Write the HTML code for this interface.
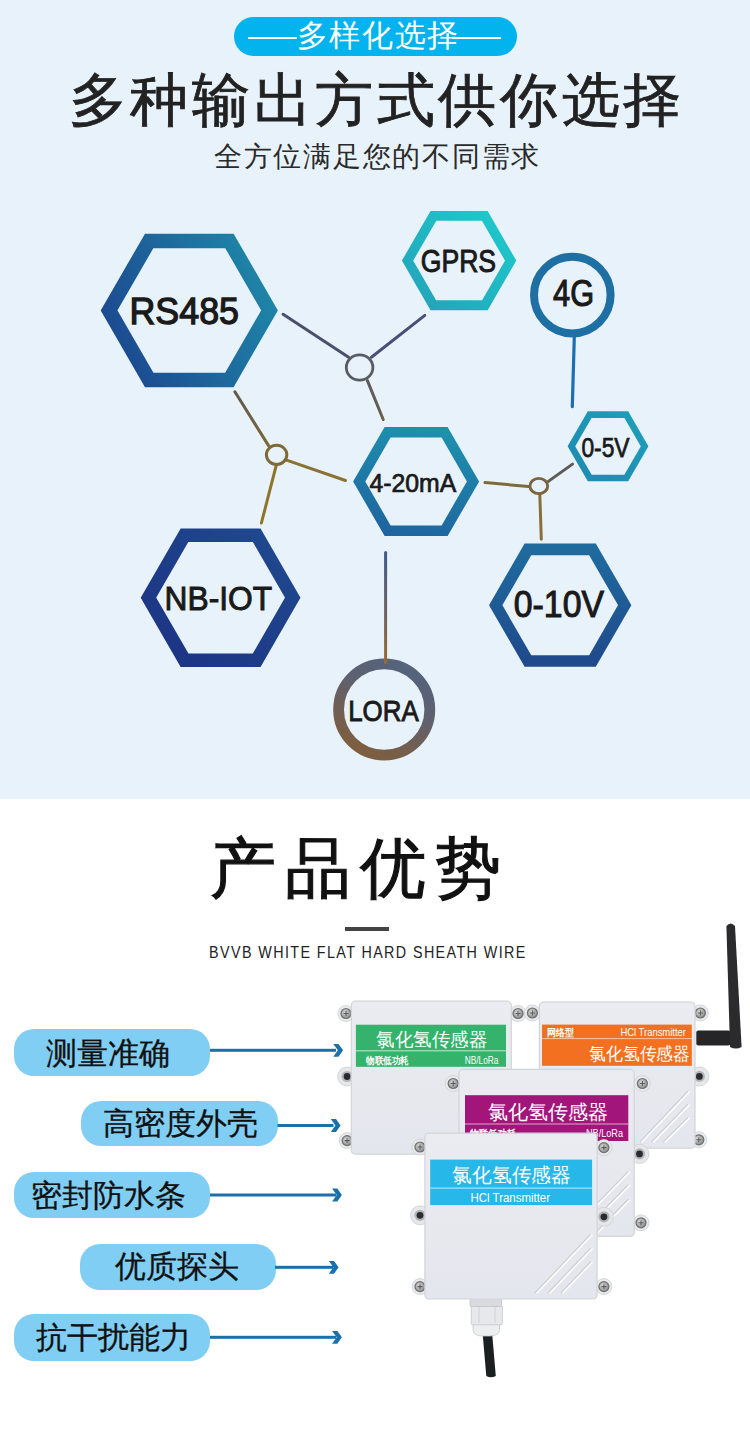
<!DOCTYPE html>
<html><head><meta charset="utf-8">
<style>
html,body{margin:0;padding:0;}
body{width:750px;height:1433px;position:relative;overflow:hidden;background:#fff;font-family:"Liberation Sans",sans-serif;}
.abs{position:absolute;}
#top{left:0;top:0;width:750px;height:799px;background:#e8f2fb;}
#pill{left:234px;top:17px;width:283px;height:39px;border-radius:20px;background:#03b3ee;}
.dash{position:absolute;height:2px;background:#fff;}
#pilltxt{left:296.8px;top:16.2px;height:39px;line-height:39px;color:#fff;font-size:30.5px;white-space:nowrap;letter-spacing:1.6px;}
#title{left:0;top:59.5px;width:750px;text-align:center;font-size:58px;font-weight:500;color:#222;-webkit-text-stroke:0.8px #222;white-space:nowrap;line-height:80px;letter-spacing:3.6px;text-indent:3.6px;}
#sub{left:1.5px;top:139px;width:750px;text-align:center;font-size:28px;color:#2a2a2a;white-space:nowrap;line-height:36px;letter-spacing:1.75px;text-indent:1.75px;}
#h2{left:209.6px;top:820px;font-size:66px;font-weight:500;color:#111;-webkit-text-stroke:1.1px #111;white-space:nowrap;line-height:96px;letter-spacing:9px;}
#bar{left:345px;top:926.5px;width:44px;height:4.5px;background:#444;}

.pl{position:absolute;border-radius:20px;background:#80cef3;}
.ft{position:absolute;font-size:31px;line-height:40px;color:#111;white-space:nowrap;-webkit-text-stroke:0.3px #111;}
</style></head><body>
<div id="top" class="abs"></div>
<div id="pill" class="abs"></div>
<div class="dash" style="left:248px;top:37px;width:49px;"></div>
<div class="dash" style="left:452px;top:37px;width:49px;"></div>
<div id="pilltxt" class="abs">多样化选择</div>
<div id="title" class="abs">多种输出方式供你选择</div>
<div id="sub" class="abs">全方位满足您的不同需求</div>

<svg class="abs" style="left:0;top:0" width="750" height="800" viewBox="0 0 750 800">
<defs>
<linearGradient id="gRS" x1="0" y1="0.7" x2="1" y2="0.3"><stop offset="0" stop-color="#1c4990"/><stop offset="1" stop-color="#1e86a8"/></linearGradient>
<linearGradient id="gGP" x1="0" y1="1" x2="1" y2="0"><stop offset="0" stop-color="#24a2b9"/><stop offset="1" stop-color="#1dcbcc"/></linearGradient>
<linearGradient id="g420" x1="0.6" y1="0" x2="0.4" y2="1"><stop offset="0" stop-color="#1e8fad"/><stop offset="1" stop-color="#1e66a0"/></linearGradient>
<linearGradient id="g05" x1="0" y1="1" x2="1" y2="0"><stop offset="0" stop-color="#1e8ab2"/><stop offset="1" stop-color="#1e9fb9"/></linearGradient>
<linearGradient id="g010" x1="0" y1="0" x2="0" y2="1"><stop offset="0" stop-color="#1f6b9e"/><stop offset="1" stop-color="#1f4a8c"/></linearGradient>
<linearGradient id="gNB" x1="0" y1="1" x2="1" y2="0"><stop offset="0" stop-color="#1c3383"/><stop offset="1" stop-color="#1f4a8f"/></linearGradient>
<linearGradient id="gLO" x1="0.72" y1="0.05" x2="0.28" y2="0.95"><stop offset="0" stop-color="#55637b"/><stop offset="0.35" stop-color="#5e6070"/><stop offset="1" stop-color="#7d5e40"/></linearGradient>
<linearGradient id="gLL" gradientUnits="userSpaceOnUse" x1="0" y1="552" x2="0" y2="663"><stop offset="0" stop-color="#3d5a8a"/><stop offset="0.5" stop-color="#6a6062"/><stop offset="1" stop-color="#9a6a30"/></linearGradient>
<linearGradient id="gL1" gradientUnits="userSpaceOnUse" x1="367" y1="380" x2="383" y2="420"><stop offset="0" stop-color="#5a5a62"/><stop offset="1" stop-color="#6a6048"/></linearGradient>
<linearGradient id="gL2" gradientUnits="userSpaceOnUse" x1="235" y1="392" x2="269" y2="446"><stop offset="0" stop-color="#605a4c"/><stop offset="1" stop-color="#7a6838"/></linearGradient>
</defs>
<g fill="none" stroke-linecap="round">
<!-- connector lines -->
<line x1="283.1" y1="314.3" x2="348.6" y2="357.2" stroke="#4a4f6e" stroke-width="3"/>
<line x1="424.8" y1="315.4" x2="371.4" y2="357.2" stroke="#4a4f78" stroke-width="3"/>
<line x1="367.4" y1="380.6" x2="383.2" y2="419.5" stroke="url(#gL1)" stroke-width="3"/>
<ellipse cx="359.6" cy="367.5" rx="13.3" ry="12.7" stroke="#5b5b62" stroke-width="2.8"/>
<line x1="234.9" y1="391.8" x2="268.7" y2="445.9" stroke="url(#gL2)" stroke-width="3"/>
<line x1="286.5" y1="460.1" x2="345.5" y2="480.5" stroke="#8a7232" stroke-width="3"/>
<line x1="276.1" y1="465.8" x2="261.4" y2="523" stroke="#8e7428" stroke-width="3"/>
<ellipse cx="276.6" cy="454.8" rx="10.2" ry="9.6" stroke="#7e6a38" stroke-width="3"/>
<line x1="574.3" y1="337" x2="572.3" y2="406.6" stroke="#1e6eb2" stroke-width="3.2"/>
<line x1="485" y1="482.6" x2="528.5" y2="486.5" stroke="#7d6a3a" stroke-width="3"/>
<line x1="548.3" y1="481.4" x2="572.5" y2="464.1" stroke="#5e5a55" stroke-width="3"/>
<line x1="539.8" y1="494.3" x2="541.3" y2="539.3" stroke="#857038" stroke-width="3"/>
<ellipse cx="538.8" cy="486" rx="8.9" ry="7.6" stroke="#7a6440" stroke-width="2.9"/>
</g>
<g fill="none" stroke-linejoin="miter">
<!-- RS485 c(189.3,310.3) Ro 88.6 t 14.5 -->
<polygon id="hRS" stroke="url(#gRS)" stroke-width="14.5" points="269.53,310.40 229.41,379.88 149.19,379.88 109.07,310.40 149.19,240.92 229.41,240.92"/>
<polygon id="hGP" stroke="url(#gGP)" stroke-width="9.8" points="510.64,260.60 484.87,305.24 433.33,305.24 407.56,260.60 433.33,215.96 484.87,215.96"/>
<polygon id="h420" stroke="url(#g420)" stroke-width="10.5" points="473.04,481.50 444.57,530.81 387.63,530.81 359.16,481.50 387.63,432.19 444.57,432.19"/>
<polygon id="h05" stroke="url(#g05)" stroke-width="6.6" points="644.59,446.30 626.29,477.99 589.71,477.99 571.41,446.30 589.71,414.61 626.29,414.61"/>
<polygon id="h010" stroke="url(#g010)" stroke-width="11.6" points="624.70,605.20 592.45,661.06 527.95,661.06 495.70,605.20 527.95,549.34 592.45,549.34"/>
<polygon id="hNB" stroke="url(#gNB)" stroke-width="13.4" points="292.76,597.70 256.68,660.20 184.52,660.20 148.44,597.70 184.52,535.20 256.68,535.20"/>
<circle cx="572.3" cy="295.1" r="38.3" stroke="#1e70a4" stroke-width="8"/>
<circle cx="384.2" cy="709.5" r="45.6" stroke="url(#gLO)" stroke-width="10.8"/>
<line x1="385.6" y1="552.5" x2="385.6" y2="662.8" stroke="url(#gLL)" stroke-width="3" stroke-linecap="round"/>
</g>
<g fill="#1a1a1a" stroke="#1a1a1a" font-family="Liberation Sans" font-weight="400">
<text id="tRS" x="129.5" y="323.8" font-size="37.8" textLength="109.5" lengthAdjust="spacingAndGlyphs" stroke-width="1.3">RS485</text>
<text id="tGP" x="420.7" y="271.7" font-size="30.7" textLength="75.4" lengthAdjust="spacingAndGlyphs" stroke-width="0.95">GPRS</text>
<text id="t4G" x="553.1" y="305.9" font-size="37.2" textLength="41.0" lengthAdjust="spacingAndGlyphs" stroke-width="1.1">4G</text>
<text id="t420" x="369.5" y="492.1" font-size="24.9" textLength="86.8" lengthAdjust="spacingAndGlyphs" stroke-width="0.7">4-20mA</text>
<text id="t05" x="581.4" y="456.7" font-size="27.0" textLength="48.2" lengthAdjust="spacingAndGlyphs" stroke-width="0.75">0-5V</text>
<text id="t010" x="513.8" y="617.0" font-size="36.6" textLength="90.2" lengthAdjust="spacingAndGlyphs" stroke-width="1.05">0-10V</text>
<text id="tNB" x="164.6" y="609.5" font-size="34.0" textLength="107.6" lengthAdjust="spacingAndGlyphs" stroke-width="1.0">NB-IOT</text>
<text id="tLO" x="348.2" y="720.9" font-size="29.4" textLength="70.5" lengthAdjust="spacingAndGlyphs" stroke-width="0.9">LORA</text>
</g>
</svg>

<div id="h2" class="abs">产品优势</div>
<div id="bar" class="abs"></div>
<svg class="abs" style="left:0;top:930px" width="750" height="40" viewBox="0 930 750 40"><text id="tEN" x="209.1" y="957.8" font-size="16.5" letter-spacing="1.6" textLength="317.6" lengthAdjust="spacingAndGlyphs" fill="#222" font-family="Liberation Sans">BVVB WHITE FLAT HARD SHEATH WIRE</text></svg>



<!-- features -->
<div class="pl" style="left:14.3px;top:1029px;width:196px;height:47px;"></div>
<div class="pl" style="left:81.2px;top:1100.5px;width:196.7px;height:45.5px;"></div>
<div class="pl" style="left:14.3px;top:1171.7px;width:196px;height:46.6px;"></div>
<div class="pl" style="left:79.7px;top:1244px;width:196px;height:45.7px;"></div>
<div class="pl" style="left:14.3px;top:1314px;width:196px;height:46.7px;"></div>
<div class="ft" style="left:46.4px;top:1034.2px;">测量准确</div>
<div class="ft" style="left:103.2px;top:1104.2px;">高密度外壳</div>
<div class="ft" style="left:31.0px;top:1176.2px;">密封防水条</div>
<div class="ft" style="left:114.9px;top:1247.2px;">优质探头</div>
<div class="ft" style="left:35.6px;top:1318.2px;">抗干扰能力</div>
<svg class="abs" style="left:0;top:1000px" width="360" height="380" viewBox="0 1000 360 380">
<g fill="#1a70aa">
<rect x="210" y="1048.8" width="126" height="3"/>
<polygon points="333.3,1043.9 338.5,1043.9 343.1,1050.3 338.5,1056.7 333.3,1056.7 337.9,1050.3"/>
<rect x="277.5" y="1124" width="56" height="3"/>
<polygon points="330.8,1119.1 336,1119.1 340.6,1125.5 336,1131.9 330.8,1131.9 335.4,1125.5"/>
<rect x="210" y="1193.5" width="126" height="3"/>
<polygon points="332.1,1188.6 337.3,1188.6 341.9,1195 337.3,1201.4 332.1,1201.4 336.7,1195"/>
<rect x="275" y="1265.8" width="58" height="3"/>
<polygon points="328.8,1260.9 334,1260.9 338.6,1267.3 334,1273.7 328.8,1273.7 333.4,1267.3"/>
<rect x="210" y="1335.8" width="126" height="3"/>
<polygon points="332.1,1330.9 337.3,1330.9 341.9,1337.3 337.3,1343.7 332.1,1343.7 336.7,1337.3"/>
</g>
</svg>

<!-- product -->
<svg class="abs" style="left:330px;top:910px" width="420" height="480" viewBox="330 910 420 480" font-family="Liberation Sans">
<defs>
<linearGradient id="gBox" x1="0" y1="0" x2="0" y2="1"><stop offset="0" stop-color="#eaecf1"/><stop offset="1" stop-color="#e3e6ec"/></linearGradient>
<radialGradient id="gScrew"><stop offset="0" stop-color="#d8d8d8"/><stop offset="0.55" stop-color="#a8a8a8"/><stop offset="0.75" stop-color="#6d6d6d"/><stop offset="1" stop-color="#9a9a9a"/></radialGradient>
<radialGradient id="gHole"><stop offset="0" stop-color="#1a1a1e"/><stop offset="0.45" stop-color="#2a2a30"/><stop offset="0.6" stop-color="#8a8a8e"/><stop offset="1" stop-color="#dcdcde"/></radialGradient>
<radialGradient id="gHead" cx="0.4" cy="0.4" r="0.7"><stop offset="0" stop-color="#e0e0e0"/><stop offset="0.6" stop-color="#a9a9aa"/><stop offset="1" stop-color="#858586"/></radialGradient>
</defs>

<!-- back-left box (green) -->
<g transform="translate(346 1013.5)"><circle r="8" fill="#e9eaec" stroke="#cdcfd2" stroke-width="0.8"/><circle r="5.6" fill="#6f7072"/><circle r="4.4" fill="url(#gHead)"/><path d="M-2.4,0H2.4M0,-2.4V2.4" stroke="#5a5a5c" stroke-width="1.1"/></g>
<g transform="translate(347.1 1076.5)"><circle r="9.5" fill="#e6e7e9" stroke="#cdcfd2" stroke-width="0.8"/><circle r="5.6" fill="#b4b5b8"/><circle r="3.4" fill="#2a2b2f"/></g>
<g transform="translate(347.1 1140.6)"><circle r="8" fill="#e9eaec" stroke="#cdcfd2" stroke-width="0.8"/><circle r="5.6" fill="#6f7072"/><circle r="4.4" fill="url(#gHead)"/><path d="M-2.4,0H2.4M0,-2.4V2.4" stroke="#5a5a5c" stroke-width="1.1"/></g>
<g transform="translate(518 1013.5)"><circle r="8" fill="#e9eaec" stroke="#cdcfd2" stroke-width="0.8"/><circle r="5.6" fill="#6f7072"/><circle r="4.4" fill="url(#gHead)"/><path d="M-2.4,0H2.4M0,-2.4V2.4" stroke="#5a5a5c" stroke-width="1.1"/></g>
<rect x="351.3" y="1001.2" width="160" height="153" rx="4" fill="url(#gBox)" stroke="#d3d4d8" stroke-width="1.2"/>
<rect x="355.9" y="1024.7" width="150.1" height="42.1" fill="#35b36c"/>
<rect x="355.9" y="1050.3" width="150.1" height="1" fill="#bfe8cf"/>
<text x="376" y="1046" font-size="19" font-weight="500" fill="#fff" textLength="111" lengthAdjust="spacingAndGlyphs">氯化氢传感器</text>
<text x="366" y="1063.5" font-size="9.5" font-weight="700" fill="#fff" textLength="42.7" lengthAdjust="spacingAndGlyphs">物联低功耗</text>
<text x="464.7" y="1063.5" font-size="10.5" fill="#fff" textLength="33.8" lengthAdjust="spacingAndGlyphs">NB/LoRa</text>

<!-- back-right box (orange) -->
<rect x="696.3" y="1030.4" width="34" height="15.1" rx="2" fill="#262628"/>
<path d="M726.4,926 Q730.7,921 735,926 L741.6,1047 Q736,1050 730,1047 Z" fill="#2b2b2e"/>
<g transform="translate(532.4 1013)"><circle r="8" fill="#e9eaec" stroke="#cdcfd2" stroke-width="0.8"/><circle r="5.6" fill="#6f7072"/><circle r="4.4" fill="url(#gHead)"/><path d="M-2.4,0H2.4M0,-2.4V2.4" stroke="#5a5a5c" stroke-width="1.1"/></g>
<g transform="translate(700.4 1013)"><circle r="8" fill="#e9eaec" stroke="#cdcfd2" stroke-width="0.8"/><circle r="5.6" fill="#6f7072"/><circle r="4.4" fill="url(#gHead)"/><path d="M-2.4,0H2.4M0,-2.4V2.4" stroke="#5a5a5c" stroke-width="1.1"/></g>
<g transform="translate(699.4 1076.4)"><circle r="9.5" fill="#e6e7e9" stroke="#cdcfd2" stroke-width="0.8"/><circle r="5.6" fill="#b4b5b8"/><circle r="3.4" fill="#2a2b2f"/></g>
<g transform="translate(698.8 1139.8)"><circle r="8" fill="#e9eaec" stroke="#cdcfd2" stroke-width="0.8"/><circle r="5.6" fill="#6f7072"/><circle r="4.4" fill="url(#gHead)"/><path d="M-2.4,0H2.4M0,-2.4V2.4" stroke="#5a5a5c" stroke-width="1.1"/></g>
<rect x="539.4" y="1002.2" width="155.6" height="146" rx="4" fill="url(#gBox)" stroke="#d3d4d8" stroke-width="1.2"/>
<rect x="542" y="1024.6" width="149.8" height="41.2" fill="#f2701f"/>
<rect x="542" y="1038.1" width="149.8" height="1" fill="#f9c6a4"/>
<text x="546.8" y="1035.8" font-size="9.5" font-weight="700" fill="#fff" textLength="27.2" lengthAdjust="spacingAndGlyphs">网络型</text>
<text x="620.4" y="1035.8" font-size="10.5" fill="#fff" textLength="65.6" lengthAdjust="spacingAndGlyphs">HCl Transmitter</text>
<text x="589" y="1059.5" font-size="18" font-weight="500" fill="#fff" textLength="101.2" lengthAdjust="spacingAndGlyphs">氯化氢传感器</text>
<g stroke="#ccced3" stroke-width="1.3"><line x1="639.9" y1="1142.1" x2="688.3" y2="1090.8"/><line x1="651.6" y1="1142.0" x2="688.3" y2="1104.0"/><line x1="663.3" y1="1142.0" x2="688.3" y2="1117.2"/></g><g stroke="#fbfcfd" stroke-width="1.6"><line x1="641.5" y1="1142.5" x2="689.9" y2="1091.2"/><line x1="653.2" y1="1142.4" x2="689.9" y2="1104.4"/><line x1="664.9" y1="1142.4" x2="689.9" y2="1117.6"/></g>

<!-- middle box (purple) -->
<g transform="translate(453.2 1083.5)"><circle r="8" fill="#e9eaec" stroke="#cdcfd2" stroke-width="0.8"/><circle r="5.6" fill="#6f7072"/><circle r="4.4" fill="url(#gHead)"/><path d="M-2.4,0H2.4M0,-2.4V2.4" stroke="#5a5a5c" stroke-width="1.1"/></g>
<g transform="translate(642.4 1083.5)"><circle r="8" fill="#e9eaec" stroke="#cdcfd2" stroke-width="0.8"/><circle r="5.6" fill="#6f7072"/><circle r="4.4" fill="url(#gHead)"/><path d="M-2.4,0H2.4M0,-2.4V2.4" stroke="#5a5a5c" stroke-width="1.1"/></g>
<g transform="translate(639.5 1153.9)"><circle r="9.5" fill="#e6e7e9" stroke="#cdcfd2" stroke-width="0.8"/><circle r="5.6" fill="#b4b5b8"/><circle r="3.4" fill="#2a2b2f"/></g>
<g transform="translate(641 1222.8)"><circle r="8" fill="#e9eaec" stroke="#cdcfd2" stroke-width="0.8"/><circle r="5.6" fill="#6f7072"/><circle r="4.4" fill="url(#gHead)"/><path d="M-2.4,0H2.4M0,-2.4V2.4" stroke="#5a5a5c" stroke-width="1.1"/></g>
<rect x="459" y="1069.4" width="175.2" height="167" rx="4" fill="url(#gBox)" stroke="#d3d4d8" stroke-width="1.2"/>
<rect x="465" y="1095.2" width="163.3" height="45.8" fill="#a2167b"/>
<rect x="465" y="1123.5" width="163.3" height="1" fill="#dca7cd"/>
<text x="487.8" y="1119" font-size="19.5" font-weight="500" fill="#fff" textLength="120.3" lengthAdjust="spacingAndGlyphs">氯化氢传感器</text>
<text x="470" y="1137" font-size="10" font-weight="700" fill="#fff" textLength="46" lengthAdjust="spacingAndGlyphs">物联低功耗</text>
<text x="586" y="1137" font-size="11" fill="#fff" textLength="37" lengthAdjust="spacingAndGlyphs">NB/LoRa</text>
<g stroke="#ccced3" stroke-width="1.3"><line x1="596.0" y1="1204.6" x2="628.4" y2="1171.5"/><line x1="596.0" y1="1218.0" x2="628.4" y2="1184.7"/><line x1="596.0" y1="1232.5" x2="628.4" y2="1199.3"/></g><g stroke="#fbfcfd" stroke-width="1.6"><line x1="597.6" y1="1205.0" x2="630.0" y2="1171.9"/><line x1="597.6" y1="1218.4" x2="630.0" y2="1185.1"/><line x1="597.6" y1="1232.9" x2="630.0" y2="1199.7"/></g>

<!-- front box (cyan) -->
<g transform="translate(420 1147)"><circle r="8" fill="#e9eaec" stroke="#cdcfd2" stroke-width="0.8"/><circle r="5.6" fill="#6f7072"/><circle r="4.4" fill="url(#gHead)"/><path d="M-2.4,0H2.4M0,-2.4V2.4" stroke="#5a5a5c" stroke-width="1.1"/></g>
<g transform="translate(420 1215.3)"><circle r="9.5" fill="#e6e7e9" stroke="#cdcfd2" stroke-width="0.8"/><circle r="5.6" fill="#b4b5b8"/><circle r="3.4" fill="#2a2b2f"/></g>
<g transform="translate(420 1286.6)"><circle r="8" fill="#e9eaec" stroke="#cdcfd2" stroke-width="0.8"/><circle r="5.6" fill="#6f7072"/><circle r="4.4" fill="url(#gHead)"/><path d="M-2.4,0H2.4M0,-2.4V2.4" stroke="#5a5a5c" stroke-width="1.1"/></g>
<g transform="translate(603.9 1147.6)"><circle r="8" fill="#e9eaec" stroke="#cdcfd2" stroke-width="0.8"/><circle r="5.6" fill="#6f7072"/><circle r="4.4" fill="url(#gHead)"/><path d="M-2.4,0H2.4M0,-2.4V2.4" stroke="#5a5a5c" stroke-width="1.1"/></g>
<g transform="translate(603.9 1216.8)"><circle r="9.5" fill="#e6e7e9" stroke="#cdcfd2" stroke-width="0.8"/><circle r="5.6" fill="#b4b5b8"/><circle r="3.4" fill="#2a2b2f"/></g>
<g transform="translate(603.9 1286.6)"><circle r="8" fill="#e9eaec" stroke="#cdcfd2" stroke-width="0.8"/><circle r="5.6" fill="#6f7072"/><circle r="4.4" fill="url(#gHead)"/><path d="M-2.4,0H2.4M0,-2.4V2.4" stroke="#5a5a5c" stroke-width="1.1"/></g>
<path d="M482.6,1333 L492.1,1333 L495.8,1376 Q491,1378.5 486.3,1376 Z" fill="#1b1f20"/>
<path d="M473,1322 L499.5,1322 L499.5,1329 Q499.5,1336 490,1336 L482.5,1336 Q473,1336 473,1329 Z" fill="#eceef0" stroke="#c4c6c9" stroke-width="0.8"/>
<rect x="471.3" y="1305.5" width="31.1" height="19.3" rx="1.5" fill="#e6e8ea" stroke="#c4c6c9" stroke-width="0.8"/>
<g stroke="#cfd1d4" stroke-width="1"><line x1="479" y1="1307" x2="479" y2="1323"/><line x1="495" y1="1307" x2="495" y2="1323"/></g>
<rect x="470.1" y="1298.4" width="31.6" height="8.1" rx="1" fill="#d9dbde" stroke="#bfc1c4" stroke-width="0.8"/>
<rect x="424.9" y="1133.2" width="172.2" height="165.8" rx="4" fill="url(#gBox)" stroke="#d3d4d8" stroke-width="1.2"/>
<rect x="430.2" y="1159.6" width="161.9" height="45.5" fill="#27b7e9"/>
<rect x="430.2" y="1187.5" width="161.9" height="1.2" fill="#a9e3f7"/>
<text x="452.4" y="1182" font-size="19.5" font-weight="500" fill="#fff" textLength="118.6" lengthAdjust="spacingAndGlyphs">氯化氢传感器</text>
<text x="470.6" y="1201.6" font-size="12" fill="#fff" textLength="79.4" lengthAdjust="spacingAndGlyphs">HCl Transmitter</text>
<g stroke="#ccced3" stroke-width="1.3"><line x1="535" y1="1293" x2="590.7" y2="1234.4"/><line x1="548" y1="1293" x2="591" y2="1248"/><line x1="561" y1="1293" x2="591" y2="1261.5"/></g><g stroke="#fbfcfd" stroke-width="1.6"><line x1="536.6" y1="1293.4" x2="592.3" y2="1234.8"/><line x1="549.6" y1="1293.4" x2="592.6" y2="1248.4"/><line x1="562.6" y1="1293.4" x2="592.6" y2="1261.9"/></g>
</svg>
</body></html>
